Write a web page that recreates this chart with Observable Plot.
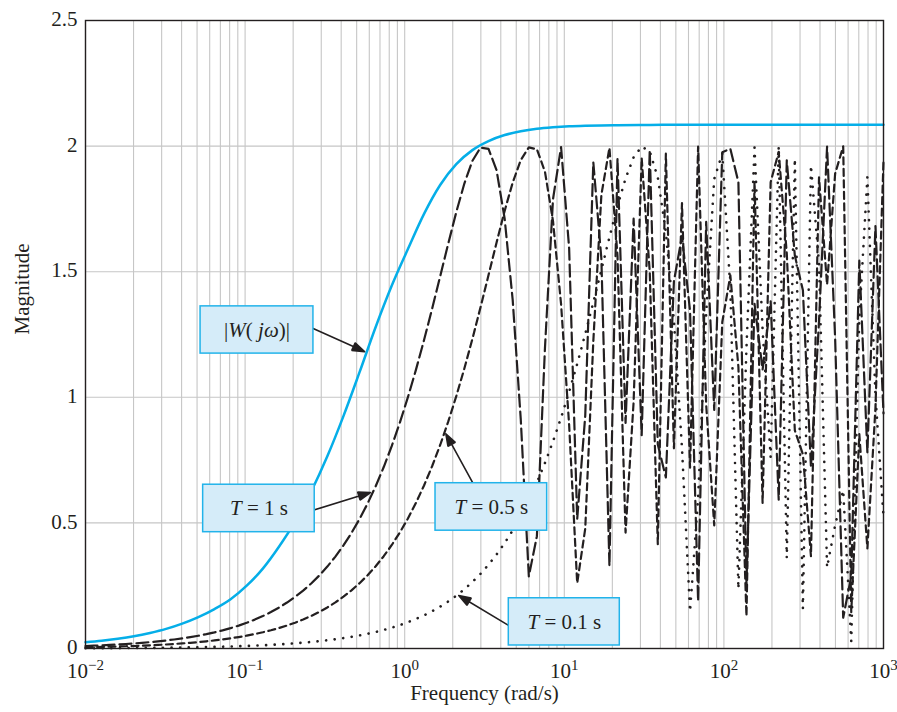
<!DOCTYPE html>
<html><head><meta charset="utf-8">
<script src="https://cdn.jsdelivr.net/npm/d3@7"></script>
<script src="https://cdn.jsdelivr.net/npm/@observablehq/plot@0.6"></script>
<style>body{margin:0;background:#fff}</style>
</head><body><div id="chart"></div>
<script>
// Frequency samples (rad/s), logarithmically spaced
const freq = [0.01, 0.011233, 0.012619, 0.014175, 0.015923, 0.017886, 0.020092, 0.022570, 0.025354, 0.028480,
  0.031993, 0.035938, 0.040370, 0.045349, 0.050941, 0.057224, 0.064281, 0.072208, 0.081113, 0.091116,
  0.10235, 0.11498, 0.12915, 0.14508, 0.16298, 0.18307, 0.20565, 0.23101, 0.25950, 0.29150,
  0.32745, 0.36784, 0.41320, 0.46416, 0.52140, 0.58570, 0.65793, 0.73907, 0.83022, 0.93260,
  1.0476, 1.1768, 1.3219, 1.4850, 1.6681, 1.8738, 2.1049, 2.3645, 2.6561, 2.9837,
  3.3516, 3.7649, 4.2292, 4.7508, 5.3367, 5.9949, 6.7342, 7.5646, 8.4975, 9.5455,
  10.723, 12.045, 13.530, 15.199, 17.074, 19.179, 21.544, 24.201, 27.186, 30.539,
  34.305, 38.535, 43.288, 48.626, 54.623, 61.359, 68.926, 77.426, 86.975, 97.701,
  109.75, 123.28, 138.49, 155.57, 174.75, 196.30, 220.51, 247.71, 278.26, 312.57,
  351.12, 394.42, 443.06, 497.70, 559.08, 628.03, 705.48, 792.48, 890.22, 1000];

// T = 1 s
const magT1 = [0.0100, 0.0112, 0.0126, 0.0142, 0.0159, 0.0179, 0.0201, 0.0226, 0.0254, 0.0285,
  0.0320, 0.0359, 0.0404, 0.0453, 0.0509, 0.0572, 0.0643, 0.0722, 0.0811, 0.0911,
  0.1023, 0.1150, 0.1291, 0.1451, 0.1629, 0.1830, 0.2055, 0.2305, 0.2588, 0.2905,
  0.3260, 0.3658, 0.4103, 0.4600, 0.5155, 0.5774, 0.6461, 0.7224, 0.8066, 0.8992,
  1.0004, 1.1101, 1.2278, 1.3522, 1.4813, 1.6115, 1.7373, 1.8509, 1.9414, 1.9938,
  1.9890, 1.9036, 1.7114, 1.3868, 0.9116, 0.2873, 0.4472, 1.1956, 1.7889, 1.9964,
  1.5934, 0.5154, 0.9272, 1.9356, 1.5516, 0.3281, 1.9503, 0.8982, 1.7111, 0.8495,
  1.9840, 0.8120, 0.6808, 1.4619, 1.6418, 1.3432, 0.1886, 1.6980, 0.9498, 1.9758,
  1.9894, 1.8564, 0.2578, 1.3720, 1.1097, 1.3817, 0.5926, 1.9431, 1.5640, 1.4261,
  0.7225, 1.3037, 1.9976, 1.2347, 0.1224, 0.2884, 1.5437, 0.7803, 1.6814, 0.9355];

// T = 0.5 s
const magT05 = [0.0050, 0.0056, 0.0063, 0.0071, 0.0080, 0.0089, 0.0100, 0.0113, 0.0127, 0.0142,
  0.0160, 0.0180, 0.0202, 0.0227, 0.0255, 0.0286, 0.0321, 0.0361, 0.0406, 0.0456,
  0.0512, 0.0575, 0.0646, 0.0725, 0.0815, 0.0915, 0.1028, 0.1155, 0.1297, 0.1456,
  0.1635, 0.1836, 0.2062, 0.2316, 0.2600, 0.2918, 0.3275, 0.3674, 0.4121, 0.4621,
  0.5178, 0.5800, 0.6490, 0.7255, 0.8101, 0.9030, 1.0045, 1.1146, 1.2326, 1.3573,
  1.4865, 1.6166, 1.7421, 1.8550, 1.9443, 1.9948, 1.9873, 1.8982, 1.7013, 1.3709,
  0.8896, 0.2599, 0.4774, 1.2234, 1.8061, 1.9932, 1.5630, 0.4615, 0.9821, 1.9521,
  1.5007, 0.4150, 1.9699, 0.7970, 1.7726, 0.7199, 1.9978, 0.9712, 0.4898, 1.2999,
  1.4851, 1.1206, 0.1292, 1.8588, 0.5797, 1.8563, 1.9774, 1.5728, 0.8680, 0.7732,
  0.3675, 1.8753, 1.4483, 1.8903, 1.9991, 0.1446, 0.8535, 0.3981, 0.9576, 1.9411];

// T = 0.1 s
const magT01 = [0.0010, 0.0011, 0.0013, 0.0014, 0.0016, 0.0018, 0.0020, 0.0023, 0.0025, 0.0028,
  0.0032, 0.0036, 0.0040, 0.0045, 0.0051, 0.0057, 0.0064, 0.0072, 0.0081, 0.0091,
  0.0102, 0.0115, 0.0129, 0.0145, 0.0163, 0.0183, 0.0206, 0.0231, 0.0260, 0.0292,
  0.0327, 0.0368, 0.0413, 0.0464, 0.0521, 0.0586, 0.0658, 0.0739, 0.0830, 0.0932,
  0.1047, 0.1176, 0.1321, 0.1483, 0.1666, 0.1871, 0.2101, 0.2359, 0.2648, 0.2973,
  0.3336, 0.3743, 0.4198, 0.4706, 0.5274, 0.5906, 0.6608, 0.7386, 0.8244, 0.9187,
  1.0216, 1.1330, 1.2522, 1.3778, 1.5074, 1.6372, 1.7613, 1.8713, 1.9554, 1.9981,
  1.9792, 1.8746, 1.6579, 1.3041, 0.7981, 0.1471, 0.6000, 1.3333, 1.8692, 1.9703,
  1.4287, 0.2373, 1.1964, 1.9943, 1.2687, 0.7612, 1.9991, 0.3600, 1.9499, 0.1586,
  1.9237, 1.5306, 0.3225, 0.4902, 0.6297, 0.0289, 1.3135, 1.8758, 1.0084, 0.5248];

// |W(jω)|
const blueFreq = [0.01, 0.012619, 0.015923, 0.020092, 0.025354, 0.031993, 0.040370, 0.050941, 0.064281, 0.081113,
  0.10235, 0.12915, 0.16298, 0.20565, 0.25950, 0.32745, 0.41320, 0.52140, 0.65793, 0.83022,
  1.0476, 1.3219, 1.6681, 2.1049, 2.6561, 3.3516, 4.2292, 5.3367, 6.7342, 8.4975,
  10.723, 13.530, 17.074, 21.544, 34.305, 54.623, 100, 1000];
const blueMag = [0.025, 0.031, 0.039, 0.049, 0.062, 0.078, 0.099, 0.125, 0.157, 0.196,
  0.250, 0.318, 0.405, 0.505, 0.625, 0.765, 0.925, 1.100, 1.280, 1.445,
  1.590, 1.730, 1.845, 1.928, 1.984, 2.020, 2.044, 2.059, 2.069, 2.075,
  2.079, 2.081, 2.082, 2.083, 2.084, 2.085, 2.085, 2.085];

// axes / grid
const xTickValues = [0.01, 0.1, 1, 10, 100, 1000];
const gridMultipliers = [1, 2, 3, 4, 5, 6, 7, 8, 9];
const yTickValues = [0, 0.5, 1, 1.5, 2, 2.5];

// annotations
const boxLabels = ["|_W_(_ jω_)|", "_T_ = 1 s", "_T_ = 0.5 s", "_T_ = 0.1 s"];
const boxX1 = [0.0526, 0.0546, 1.560, 4.49];
const boxX2 = [0.268, 0.273, 7.81, 22.27];
const boxY1 = [1.174, 0.463, 0.469, 0.012];
const boxY2 = [1.362, 0.652, 0.658, 0.200];
const arrowX1 = [0.267, 0.276, 2.66, 4.47];
const arrowY1 = [1.274, 0.553, 0.661, 0.092];
const arrowX2 = [0.560, 0.610, 1.81, 2.18];
const arrowY2 = [1.182, 0.621, 0.855, 0.211];

const gridX = xTickValues.slice(0, -1).flatMap(d => gridMultipliers.map(m => d * m)).concat([1000]);
const toRows = (xs, ys) => xs.map((f, i) => ({f, m: ys[i]}));
const dT1 = toRows(freq, magT1), dT05 = toRows(freq, magT05), dT01 = toRows(freq, magT01);
const dW = toRows(blueFreq, blueMag);
const boxes = boxLabels.map((label, i) => ({label, x1: boxX1[i], x2: boxX2[i], y1: boxY1[i], y2: boxY2[i]}));
const arrows = arrowX1.map((x1, i) => ({x1, y1: arrowY1[i], x2: arrowX2[i], y2: arrowY2[i]}));

const ink = "#231f20";
const chart = Plot.plot({
  width: 897, height: 712,
  marginLeft: 85, marginRight: 14, marginTop: 20, marginBottom: 64,
  style: {fontFamily: "'Liberation Serif', 'Times New Roman', serif", fontSize: "21px", color: ink, background: "#fff"},
  x: {type: "log", domain: [0.01, 1000]},
  y: {domain: [0, 2.5]},
  marks: [
    Plot.ruleX(gridX, {stroke: "#c6c6c6", strokeWidth: 1.1}),
    Plot.ruleY(yTickValues, {stroke: "#c6c6c6", strokeWidth: 1.1}),
    Plot.line(dT01, {x: "f", y: "m", stroke: ink, strokeWidth: 2.6, strokeDasharray: "0.1 8.5", strokeLinecap: "round"}),
    Plot.line(dT05, {x: "f", y: "m", stroke: ink, strokeWidth: 2.2, strokeDasharray: "7 4.5"}),
    Plot.line(dT1, {x: "f", y: "m", stroke: ink, strokeWidth: 2.2, strokeDasharray: "12 5"}),
    Plot.line(dW, {x: "f", y: "m", stroke: "#05aee8", strokeWidth: 2.5, curve: "monotone-x"}),
    Plot.frame({stroke: ink, strokeWidth: 1.4}),
    Plot.axisX(xTickValues, {tickSize: 0, tickPadding: 15, label: null, tickFormat: d => "10^" + Math.round(Math.log10(d))}),
    Plot.axisY(yTickValues, {tickSize: 0, tickPadding: 8, dy: -1, label: null, tickFormat: d => String(d)}),
    Plot.text(["Frequency (rad/s)"], {frameAnchor: "bottom", dy: 51, fill: ink}),
    Plot.text(["Magnitude"], {frameAnchor: "left", dx: -63, rotate: -90, fill: ink}),
    Plot.arrow(arrows, {x1: "x1", y1: "y1", x2: "x2", y2: "y2", stroke: ink, strokeWidth: 1.6, headLength: 12, headAngle: 38}),
    Plot.rect(boxes, {x1: "x1", x2: "x2", y1: "y1", y2: "y2", fill: "#d5ecf9", stroke: "#22b3ea", strokeWidth: 1.5}),
    Plot.text(boxes, {x: d => Math.sqrt(d.x1 * d.x2), y: d => (d.y1 + d.y2) / 2, text: "label", fill: ink})
  ]
});

const NS = "http://www.w3.org/2000/svg";
function ts(txt, attrs) {
  const t = document.createElementNS(NS, "tspan");
  t.textContent = txt;
  for (const k in attrs) t.setAttribute(k, attrs[k]);
  return t;
}
chart.querySelectorAll("text").forEach(t => {
  const s = t.textContent;
  if (/^10\^/.test(s)) {
    const e = s.slice(3).replace("-", "\u2212");
    while (t.firstChild) t.removeChild(t.firstChild);
    t.appendChild(ts("10", {}));
    t.appendChild(ts(e, {dy: "-8", "font-size": "15px"}));
  } else if (s.includes("_")) {
    const parts = s.split("_");
    while (t.firstChild) t.removeChild(t.firstChild);
    parts.forEach((p, i) => { if (p) t.appendChild(ts(p, i % 2 ? {"font-style": "italic"} : {})); });
  }
});
// fill the arrow heads
chart.querySelectorAll('g[aria-label="arrow"] path').forEach(p => {
  const n = (p.getAttribute("d") || "").match(/-?\d+(\.\d+)?(e-?\d+)?/g);
  if (!n || n.length !== 10) return;
  const v = n.map(Number);
  p.setAttribute("d", `M${v[0]},${v[1]}L${v[2]},${v[3]}M${v[4]},${v[5]}L${v[2]},${v[3]}L${v[8]},${v[9]}Z`);
  p.setAttribute("fill", ink);
  p.setAttribute("stroke-linejoin", "miter");
});
document.getElementById("chart").appendChild(chart);
</script>
</body></html>
